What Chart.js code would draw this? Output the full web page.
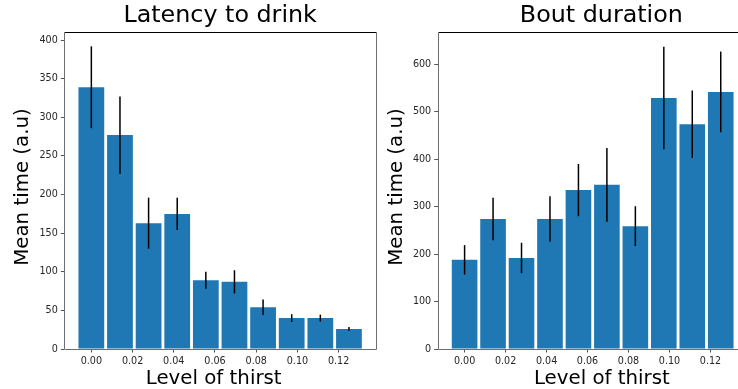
<!DOCTYPE html>
<html>
<head>
<meta charset="utf-8">
<script src="https://cdn.jsdelivr.net/npm/chart.js@4/dist/chart.umd.min.js"></script>
<style>
  html, body { margin: 0; padding: 0; background: #fff; width: 738px; height: 389px; overflow: hidden; }
  .box { position: absolute; top: 0; height: 389px; }
  #b1 { left: 0; width: 380px; }
  #b2 { left: 380px; width: 400px; }
</style>
</head>
<body>
<div class="box" id="b1"><canvas id="c1"></canvas></div>
<div class="box" id="b2"><canvas id="c2"></canvas></div>
<script>
// ---- data ----
const thirstLevels = [0, 0.013889, 0.027778, 0.041667, 0.055556, 0.069444, 0.083333, 0.097222, 0.111111, 0.125];
const latencyMean = [339, 277, 163, 175, 89, 87, 54, 40, 40, 26];
const latencyErr  = [53, 50, 33, 21, 11, 15, 10, 5, 4.5, 2.5];
const boutMean = [188, 274, 192, 274, 335, 346, 259, 529, 474, 542];
const boutErr  = [31, 45, 32, 48, 55, 78, 42, 108, 71, 85];
const xTicks = [0, 0.02, 0.04, 0.06, 0.08, 0.10, 0.12];
const latencyTicks = [0, 50, 100, 150, 200, 250, 300, 350, 400];
const boutTicks = [0, 100, 200, 300, 400, 500, 600];
const xLabelText = 'Level of thirst';
const yLabelText = 'Mean time (a.u)';

const FONT = "'DejaVu Sans', sans-serif";
const BAR = '#1f77b4';

const errorBars = {
  id: 'errorBars',
  afterDatasetsDraw(chart, args, opts) {
    const ctx = chart.ctx, xs = chart.scales.x, ys = chart.scales.y;
    const means = opts.means, errs = opts.errs;
    ctx.save();
    ctx.strokeStyle = '#000';
    ctx.lineWidth = 1.5;
    for (let i = 0; i < means.length; i++) {
      const px = xs.getPixelForValue(thirstLevels[i]);
      ctx.beginPath();
      ctx.moveTo(px, ys.getPixelForValue(means[i] - errs[i]));
      ctx.lineTo(px, ys.getPixelForValue(means[i] + errs[i]));
      ctx.stroke();
    }
    ctx.restore();
  }
};

const spines = {
  id: 'spines',
  afterDraw(chart) {
    const a = chart.chartArea, ctx = chart.ctx;
    const l = Math.round(a.left) + 0.5, r = Math.round(a.right) + 0.5;
    const t = Math.round(a.top) + 0.5, b = Math.round(a.bottom) + 0.5;
    ctx.save();
    ctx.lineWidth = 1;
    ctx.strokeStyle = '#000';
    ctx.beginPath(); ctx.moveTo(l, t); ctx.lineTo(r, t); ctx.stroke();
    ctx.strokeStyle = '#6e6e6e';
    ctx.beginPath(); ctx.moveTo(l, t); ctx.lineTo(l, b); ctx.lineTo(r, b); ctx.lineTo(r, t); ctx.stroke();
    ctx.restore();
  }
};

const axisLabels = {
  id: 'axisLabels',
  afterDraw(chart, args, o) {
    const a = chart.chartArea, ctx = chart.ctx;
    ctx.save();
    ctx.fillStyle = '#000';
    ctx.font = o.size + 'px ' + FONT;
    ctx.textAlign = 'center';
    ctx.textBaseline = 'alphabetic';
    ctx.fillText(o.xText, (a.left + a.right) / 2 + o.xdx, a.bottom + o.xdy);
    ctx.translate(a.left - o.ydx, (a.top + a.bottom) / 2 + o.ydy);
    ctx.rotate(-Math.PI / 2);
    ctx.fillText(o.yText, 0, 0);
    ctx.restore();
  }
};

function makeChart(id, title, means, errs, yTicks, yMax, xMax, yAxisWidth, padRight, lab) {
  return new Chart(document.getElementById(id), {
    type: 'bar',
    data: {
      datasets: [{
        data: thirstLevels.map((x, i) => ({ x: x, y: means[i] })),
        backgroundColor: BAR,
        borderWidth: 0,
        barPercentage: 0.9,
        categoryPercentage: 1.0
      }]
    },
    options: {
      responsive: true,
      maintainAspectRatio: false,
      animation: false,
      layout: { padding: { left: 0, right: padRight, top: 0, bottom: 0 } },
      plugins: {
        legend: { display: false },
        tooltip: { enabled: false },
        title: {
          display: true,
          fullSize: false,
          text: title,
          color: '#000',
          font: { family: FONT, size: 23.8, weight: 'normal', lineHeight: 1.2 },
          padding: { top: 1.3, bottom: 1.8 }
        },
        errorBars: { means: means, errs: errs },
        axisLabels: Object.assign({ xText: xLabelText, yText: yLabelText, size: 19.8 }, lab)
      },
      scales: {
        x: {
          type: 'linear',
          offset: false,
          min: -0.013125,
          max: xMax,
          afterBuildTicks(s) { s.ticks = xTicks.map(v => ({ value: v })); },
          afterFit(s) { s.height = 40; },
          grid: { display: true, drawOnChartArea: false, drawTicks: true, tickLength: 3.5, tickColor: '#555', offset: false },
          border: { display: false },
          ticks: {
            autoSkip: false, maxRotation: 0, padding: 3.5, color: '#262626',
            font: { family: FONT, size: 9.6 },
            callback: v => v.toFixed(2)
          },
          title: { display: false }
        },
        y: {
          min: 0,
          max: yMax,
          afterBuildTicks(s) { s.ticks = yTicks.map(v => ({ value: v })); },
          afterFit(s) { s.width = yAxisWidth; },
          grid: { display: true, drawOnChartArea: false, drawTicks: true, tickLength: 3.5, tickColor: '#555' },
          border: { display: false },
          ticks: {
            autoSkip: false, padding: 3, color: '#262626',
            font: { family: FONT, size: 9.6 },
            callback: v => String(v)
          },
          title: { display: false }
        }
      }
    },
    plugins: [errorBars, spines, axisLabels]
  });
}

makeChart('c1', 'Latency to drink', latencyMean, latencyErr, latencyTicks, 411, 0.138125, 64.3, 4,
  { xdx: -6.5, xdy: 35, ydx: 36.8, ydy: -3.3 });
makeChart('c2', 'Bout duration', boutMean, boutErr, boutTicks, 669, 0.1466, 57.7, 15,
  { xdx: 0.5, xdy: 35, ydx: 35.4, ydy: -3.3 });
</script>
</body>
</html>
